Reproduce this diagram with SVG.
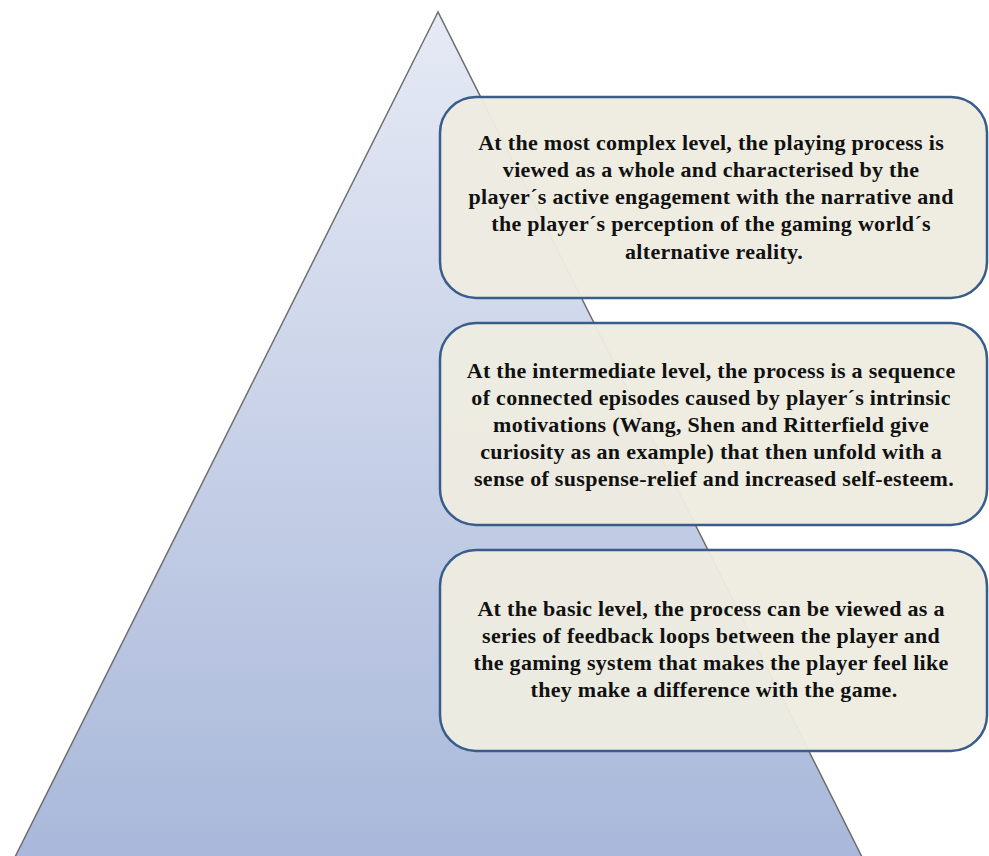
<svg xmlns="http://www.w3.org/2000/svg" width="989" height="856" viewBox="0 0 989 856">
  <defs>
    <linearGradient id="pyramidFill" x1="0" y1="0" x2="0" y2="1">
      <stop offset="0" stop-color="#e6eaf5"/>
      <stop offset="1" stop-color="#a9b8da"/>
    </linearGradient>
  </defs>
  <style>
    .box { fill: #eeece1; fill-opacity: 0.96; stroke: #385d8a; stroke-width: 2.5; }
    .label { font-family: "Liberation Serif", "DejaVu Serif", serif; font-weight: bold; font-size: 22px; letter-spacing: 0.3px; fill: #111111; text-anchor: middle; }
  </style>
  <rect width="989" height="856" fill="#ffffff"/>
  <g id="pyramid">
    <polygon points="438,12 15,857 862,857" fill="url(#pyramidFill)" stroke="#6e6e6e" stroke-width="1.5"/>
  </g>
  <g id="level-complex">
    <rect class="box" x="440" y="97" width="547" height="201" rx="36" ry="36"/>
    <text class="label">
      <tspan x="714" y="150">At the most complex level, the playing process is</tspan>
      <tspan x="714" y="177">viewed as a whole and characterised by the</tspan>
      <tspan x="714" y="204">player´s active engagement  with the narrative and</tspan>
      <tspan x="714" y="231">the player´s perception of the gaming world´s</tspan>
      <tspan x="714" y="259">alternative reality.</tspan>
    </text>
  </g>
  <g id="level-intermediate">
    <rect class="box" x="440" y="323" width="547" height="202" rx="36" ry="36"/>
    <text class="label">
      <tspan x="714" y="378">At the intermediate level, the process is  a sequence</tspan>
      <tspan x="714" y="405">of connected episodes caused by player´s intrinsic</tspan>
      <tspan x="714" y="432">motivations (Wang, Shen and Ritterfield give</tspan>
      <tspan x="714" y="459">curiosity as an example) that then unfold with a</tspan>
      <tspan x="714" y="486">sense of suspense-relief and increased self-esteem.</tspan>
    </text>
  </g>
  <g id="level-basic">
    <rect class="box" x="440" y="550" width="547" height="201" rx="36" ry="36"/>
    <text class="label">
      <tspan x="714" y="616">At the basic level, the process can be viewed as a</tspan>
      <tspan x="714" y="643">series of feedback loops between the player and</tspan>
      <tspan x="714" y="670">the gaming system that makes the player feel like</tspan>
      <tspan x="714" y="697">they make a difference with the game.</tspan>
    </text>
  </g>
</svg>
